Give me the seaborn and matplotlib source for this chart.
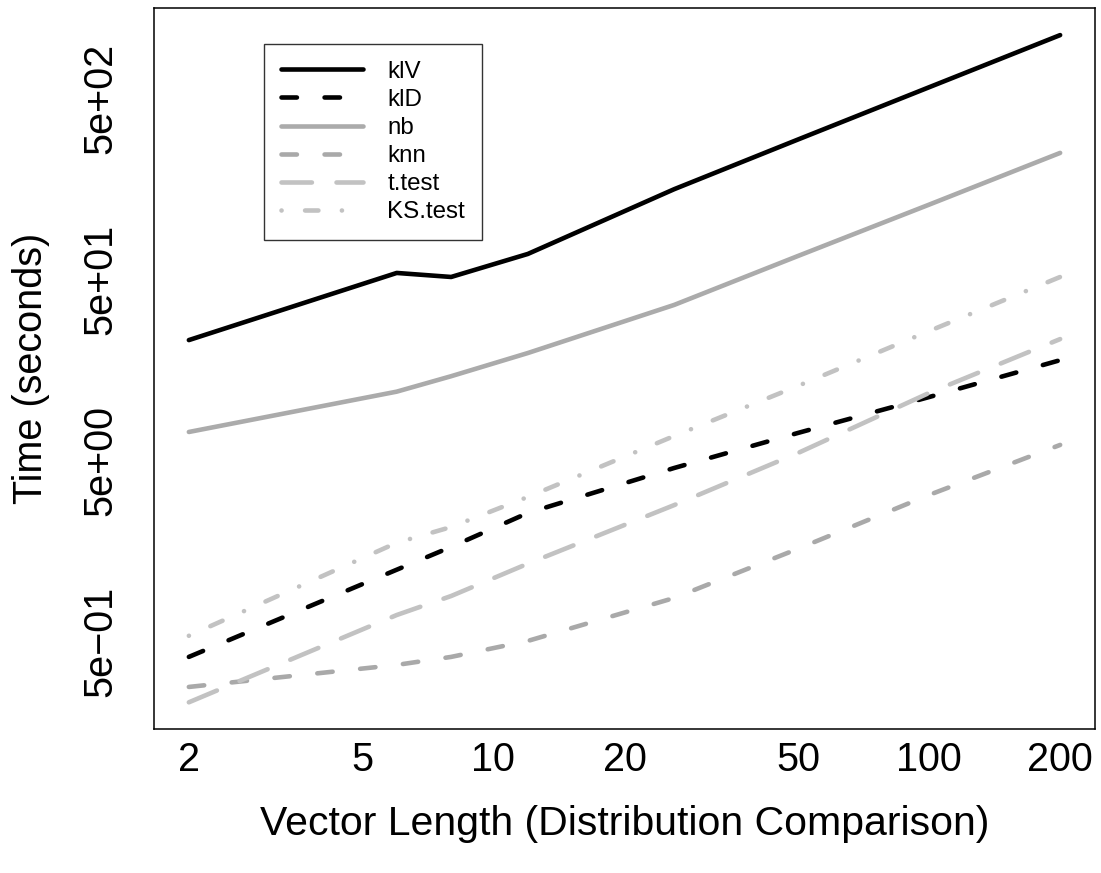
import numpy as np
import pandas as pd
import matplotlib
matplotlib.use("Agg")
import matplotlib.pyplot as plt
import seaborn as sns
from matplotlib.ticker import FixedLocator, FixedFormatter, NullLocator, NullFormatter

# Run time (seconds) of each comparison method against vector length
vector_length = [2, 6, 8, 12, 26, 50, 100, 200]
klV = [23.1, 54.2, 51.5, 69.0, 157, 295, 573, 1112]
klD = [0.413, 1.25, 1.67, 2.57, 4.55, 7.1, 11.2, 17.9]
nb = [7.19, 12.0, 14.6, 19.6, 36.1, 67.2, 129, 249]
knn = [0.282, 0.373, 0.413, 0.506, 0.873, 1.63, 3.23, 6.1]
t_test = [0.232, 0.703, 0.895, 1.35, 2.84, 5.5, 11.8, 23.4]
ks_test = [0.540, 1.76, 2.15, 3.15, 6.83, 12.9, 25.9, 51.5]

methods = ["klV", "klD", "nb", "knn", "t.test", "KS.test"]
series = [klV, klD, nb, knn, t_test, ks_test]

x_ticks = [2, 5, 10, 20, 50, 100, 200]
y_major = [5e-1, 5e0, 5e1, 5e2]
y_major_labels = ["5e\u221201", "5e+00", "5e+01", "5e+02"]
y_minor = [1e-1, 1e0, 1e1, 1e2, 1e3]

df = pd.DataFrame({
    "length": np.tile(vector_length, len(methods)),
    "time": np.concatenate(series),
    "method": np.repeat(methods, len(vector_length)),
})

palette = {"klV": "#000000", "klD": "#000000", "nb": "#ABABAB",
           "knn": "#A9A9A9", "t.test": "#C2C2C2", "KS.test": "#C2C2C2"}
# dash patterns in points (not scaled by line width)
dashes = {"klV": "", "klD": (11.1, 19.9), "nb": "", "knn": (11.1, 19.9),
          "t.test": (21.9, 17.7), "KS.test": (0.07, 16.9, 9.6, 16.9)}

sns.set_style("white")
plt.rcParams["font.family"] = ["Liberation Sans", "DejaVu Sans"]
plt.rcParams["lines.scale_dashes"] = False
plt.rcParams["text.color"] = "black"
plt.rcParams["axes.labelcolor"] = "black"
plt.rcParams["xtick.color"] = "black"
plt.rcParams["ytick.color"] = "black"

fig = plt.figure(figsize=(11.01, 8.73), dpi=100)
ax = fig.add_axes([154 / 1101, 1 - 729 / 873, 941 / 1101, 720.6 / 873])

sns.lineplot(data=df, x="length", y="time", hue="method", style="method",
             hue_order=methods, style_order=methods, palette=palette,
             dashes=dashes, linewidth=3.3, legend=False, ax=ax,
             solid_capstyle="round", dash_capstyle="round",
             solid_joinstyle="round", dash_joinstyle="round")

ax.set_xscale("log")
ax.set_yscale("log")

# 4% padding in log space on both axes
lx = np.log10([min(vector_length), max(vector_length)])
ly = np.log10([df["time"].min(), df["time"].max()])
px, py = 0.04 * (lx[1] - lx[0]), 0.04 * (ly[1] - ly[0])
ax.set_xlim(10 ** (lx[0] - px), 10 ** (lx[1] + px))
ax.set_ylim(10 ** (ly[0] - py), 10 ** (ly[1] + py))

ax.xaxis.set_major_locator(FixedLocator(x_ticks))
ax.xaxis.set_major_formatter(FixedFormatter([str(v) for v in x_ticks]))
ax.xaxis.set_minor_locator(NullLocator())
ax.yaxis.set_major_locator(FixedLocator(y_major))
ax.yaxis.set_major_formatter(FixedFormatter(y_major_labels))
ax.yaxis.set_minor_locator(FixedLocator(y_minor))
ax.yaxis.set_minor_formatter(NullFormatter())

tick_size = 28.5
ax.tick_params(axis="both", which="both", direction="out", length=12.2,
               width=0.8, color="black", labelsize=tick_size, labelcolor="black")
ax.tick_params(axis="x", pad=-3.5)
ax.tick_params(axis="y", which="major", pad=13)
for lab in ax.get_yticklabels():
    lab.set_rotation(90)
    lab.set_va("center")

for sp in ax.spines.values():
    sp.set_visible(True)
    sp.set_color("black")
    sp.set_linewidth(1.1)

ax.set_xlabel("Vector Length (Distribution Comparison)", fontsize=29.5)
ax.set_ylabel("Time (seconds)", fontsize=28.5)
ax.xaxis.label.set_va("center")
ax.yaxis.label.set_va("center")
ax.xaxis.set_label_coords(0.5, (729 - 824) / 720.6)
ax.yaxis.set_label_coords((31 - 154) / 941, 0.5)

handles = ax.get_lines()[:len(methods)]
leg = ax.legend(handles, methods, loc="upper left",
                bbox_to_anchor=((264 - 154) / 941, 1 - (44 - 8.4) / 720.6),
                borderaxespad=0, frameon=True, fancybox=False,
                fontsize=17.4, handlelength=3.4, handletextpad=1.0,
                labelspacing=0.25, borderpad=0.7)
leg.get_frame().set_edgecolor("black")
leg.get_frame().set_linewidth(1.0)

fig.savefig("out.png", dpi=100, facecolor="white")
